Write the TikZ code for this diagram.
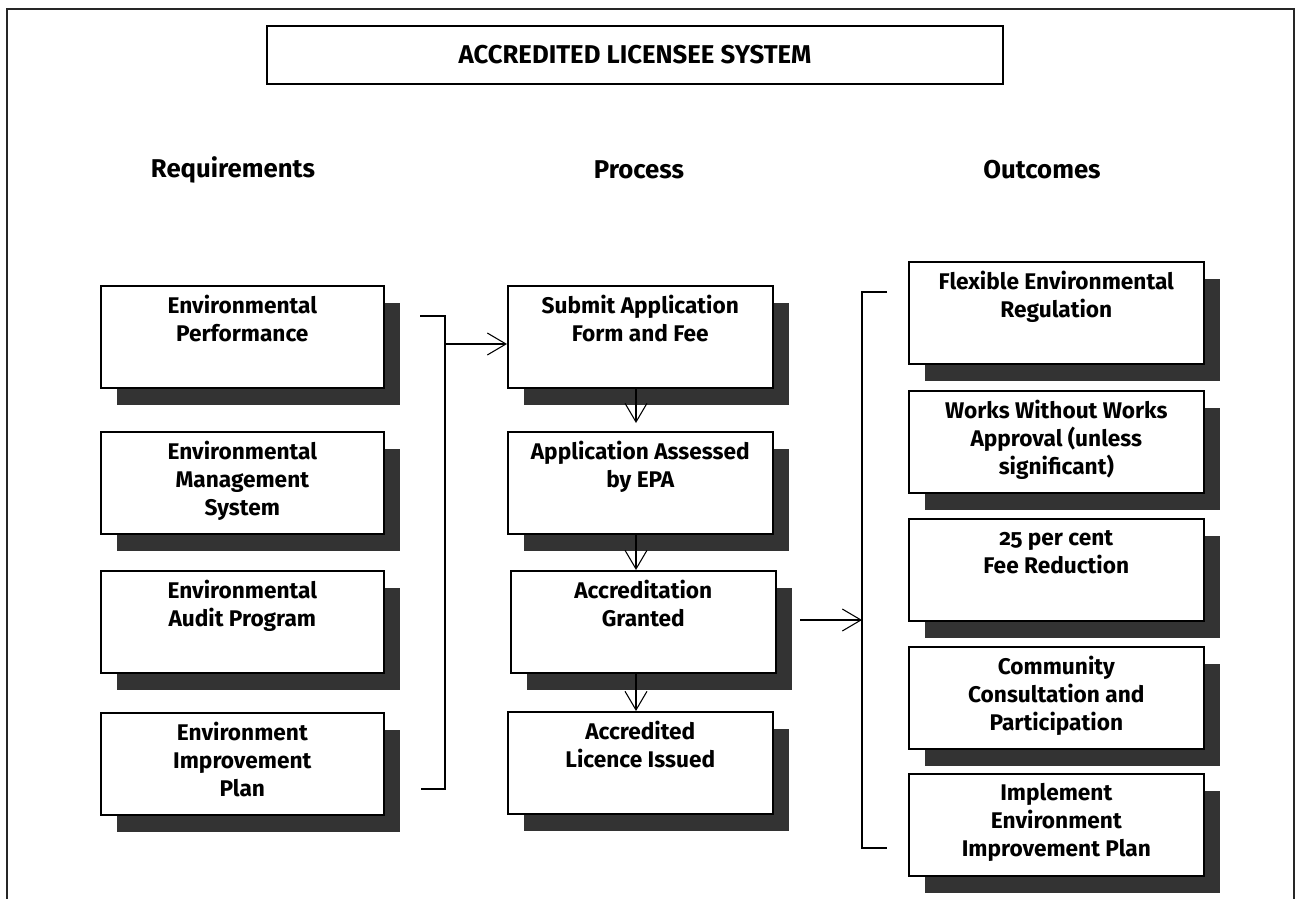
\documentclass[tikz,border=0pt]{standalone}
\usepackage{fontspec}
\setmainfont{Fira Sans}
\newfontfamily\osf{Fira Sans}[Numbers=OldStyle]
\usetikzlibrary{arrows.meta,shadows}
\definecolor{shadowgray}{HTML}{333333}
\begin{document}
\begin{tikzpicture}[x=0.75pt,y=-0.75pt,
  box/.style={draw=black, line width=1.2pt, fill=white, minimum height=102*0.75pt,
    inner sep=0pt, anchor=north west,
    drop shadow={shadow xshift=12pt, shadow yshift=-12.75pt, fill=shadowgray, opacity=1}},
  lbox/.style={box, minimum width=283*0.75pt},
  pbox/.style={box, minimum width=265*0.75pt},
  obox/.style={box, minimum width=295*0.75pt},
  lbl/.style={anchor=north, yshift=-7.2pt, inner sep=0pt, align=center,
    font=\bfseries\fontsize{17}{21}\selectfont},
  head/.style={font=\bfseries\fontsize{19.3}{22}\selectfont, inner sep=0pt},
  thinline/.style={line width=0.8pt, black},
  arr/.style={thinline, -{Straight Barb[length=14pt,width=16.5pt,line width=0.8pt]}}
]
\useasboundingbox (0,0) rectangle (1295,899);
\newcommand\ts{\rule{0pt}{13pt}}
% outer frame
\draw[line width=0.9pt, black!85] (7,899) -- (7,9) -- (1294,9) -- (1294,899);
% title
\node[draw=black, line width=1.1pt, minimum width=736*0.75pt, minimum height=58*0.75pt,
  font=\bfseries\fontsize{19.3}{22}\selectfont] (title) at (635,55) {ACCREDITED LICENSEE SYSTEM};
% headers
\node[head] (hreq) at (233,170) {Requirements};
\node[head] (hpro) at (639,170) {Process};
\node[head] (hout) at (1042,170) {Outcomes};
% requirements
\node[lbox, label={[lbl]north:\ts Environmental\\Performance}] (r1) at (100,285) {};
\node[lbox, label={[lbl]north:\ts Environmental\\Management\\System}] (r2) at (100,431) {};
\node[lbox, label={[lbl]north:\ts Environmental\\Audit Program}] (r3) at (100,570) {};
\node[lbox, label={[lbl]north:\ts Environment\\Improvement\\Plan}] (r4) at (100,712) {};
% process
\node[pbox, label={[lbl]north:\ts Submit Application\\Form and Fee}] (p1) at (507,285) {};
\node[pbox, label={[lbl]north:\ts Application Assessed\\by EPA}] (p2) at (507,431) {};
\node[pbox, label={[lbl]north:\ts Accreditation\\Granted}] (p3) at (510,570) {};
\node[pbox, label={[lbl]north:\ts Accredited\\Licence Issued}] (p4) at (507,711) {};
% outcomes
\node[obox, label={[lbl]north:\ts Flexible Environmental\\Regulation}] (o1) at (908,261) {};
\node[obox, label={[lbl]north:\ts Works Without Works\\Approval (unless\\significant)}] (o2) at (908,390) {};
\node[obox, label={[lbl]north:\ts {\osf\bfseries 25} per cent\\Fee Reduction}] (o3) at (908,518) {};
\node[obox, label={[lbl]north:\ts Community\\Consultation and\\Participation}] (o4) at (908,646) {};
\node[obox, label={[lbl]north:\ts Implement\\Environment\\Improvement Plan}] (o5) at (908,773) {};
% left bracket
\coordinate (lbt) at (420,316);
\coordinate (lbtv) at (445,316);
\coordinate (lbbv) at (445,789);
\coordinate (lbb) at (421,789);
\draw[thinline] (lbt) -- (lbtv) -- (lbbv) -- (lbb);
\coordinate (la) at (446,344);
\draw[arr] (la) -- (la -| p1.west);
% right bracket
\coordinate (rbt) at (887,292);
\coordinate (rbtv) at (862,292);
\coordinate (rbbv) at (862,848);
\coordinate (rbb) at (887,848);
\draw[thinline] (rbt) -- (rbtv) -- (rbbv) -- (rbb);
\coordinate (ra) at (800,620);
\coordinate (rb) at (862,620);
\draw[arr] (ra) -- (rb);
% process arrows
\coordinate (ax) at (636,0);
\draw[arr, shorten >=6pt] (p1.south -| ax) -- (p2.north -| ax);
\draw[arr] (p2.south -| ax) -- (p3.north -| ax);
\draw[arr] (p3.south -| ax) -- (p4.north -| ax);
\end{tikzpicture}
\end{document}
